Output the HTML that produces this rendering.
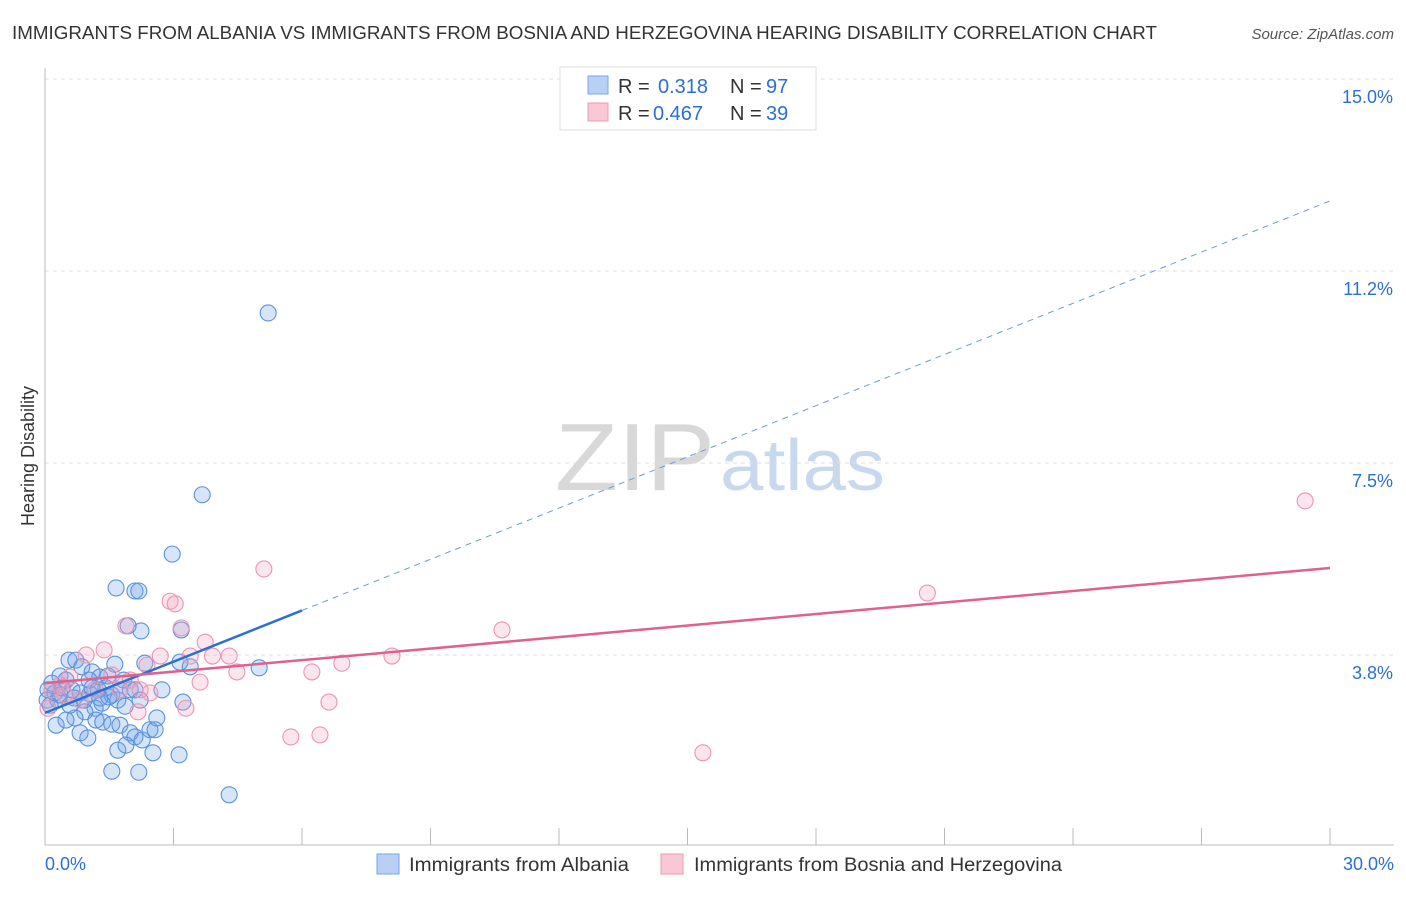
<!DOCTYPE html>
<html><head><meta charset="utf-8"><style>
body{margin:0;background:#fff;font-family:"Liberation Sans",sans-serif;}
svg text{font-family:"Liberation Sans",sans-serif;}
</style></head><body>
<svg id="chart" width="1406" height="892" xmlns="http://www.w3.org/2000/svg">
<text x="12" y="39" font-size="18" fill="#333" textLength="1145" lengthAdjust="spacingAndGlyphs">IMMIGRANTS FROM ALBANIA VS IMMIGRANTS FROM BOSNIA AND HERZEGOVINA HEARING DISABILITY CORRELATION CHART</text>
<text x="1394" y="39" font-size="15" fill="#555" text-anchor="end" font-style="italic">Source: ZipAtlas.com</text>
<text x="555" y="490" font-size="96" fill="#d8d8d8" font-family="Liberation Serif" textLength="160" lengthAdjust="spacingAndGlyphs">ZIP</text>
<text x="720" y="490" font-size="72" fill="#c8d8ef" textLength="165" lengthAdjust="spacingAndGlyphs">atlas</text>
<text transform="translate(34,456) rotate(-90)" font-size="18" fill="#333" text-anchor="middle">Hearing Disability</text>
<g id="grid"></g><g id="axes"></g><g id="marks"></g>
<g>
<rect x="560" y="67" width="256" height="63" fill="#fff" stroke="#ddd"/>
<rect x="588" y="76" width="20" height="18" fill="#b8d0f4" stroke="#7aa6e6"/>
<rect x="588" y="103" width="20" height="18" fill="#f8c8d6" stroke="#ee9ab4"/>
<text x="618" y="93" font-size="20" fill="#333">R =</text>
<text x="658" y="93" font-size="20" fill="#2a6fd6">0.318</text>
<text x="730" y="93" font-size="20" fill="#333">N =</text>
<text x="766" y="93" font-size="20" fill="#2a6fd6">97</text>
<text x="618" y="120" font-size="20" fill="#333">R =</text>
<text x="653" y="120" font-size="20" fill="#2a6fd6">0.467</text>
<text x="730" y="120" font-size="20" fill="#333">N =</text>
<text x="766" y="120" font-size="20" fill="#2a6fd6">39</text>
</g>
<g>
<rect x="377" y="854" width="22" height="20" fill="#b8d0f4" stroke="#7aa6e6"/>
<text x="409" y="871" font-size="19" fill="#333" textLength="220" lengthAdjust="spacingAndGlyphs">Immigrants from Albania</text>
<rect x="661" y="854" width="22" height="20" fill="#f8c8d6" stroke="#ee9ab4"/>
<text x="694" y="871" font-size="19" fill="#333" textLength="368" lengthAdjust="spacingAndGlyphs">Immigrants from Bosnia and Herzegovina</text>
</g>
</svg>
<script>
const yTicks=[3.75,7.5,11.25,15];
const yTickLabels=["3.8%","7.5%","11.2%","15.0%"];
const xTicks=[0,3,6,9,12,15,18,21,24,27,30];
const albaniaX=[5.21,3.67,2.97,1.66,2.10,2.19,2.24,1.94,3.18,5.00,3.15,3.39,2.33,1.63,0.56,0.72,0.86,1.10,1.28,1.47,0.35,0.16,0.07,0.23,0.05,0.40,0.63,0.82,1.05,1.24,1.42,1.56,1.75,1.99,2.10,2.73,1.70,1.87,1.33,1.17,0.93,0.70,0.49,0.26,0.82,1.00,1.19,1.35,1.56,1.75,1.99,2.10,2.27,2.45,2.61,2.57,1.70,1.89,2.52,3.13,1.56,2.19,4.30,3.22,1.03,0.49,2.22,1.49,0.30,0.12,0.68,0.91,1.10,1.28,1.84,0.35,0.58];
const albaniaY=[10.43,6.88,5.72,5.06,5.00,5.00,4.22,4.32,4.24,3.50,3.61,3.52,3.59,3.57,3.65,3.65,3.52,3.42,3.32,3.34,3.34,3.20,3.07,3.01,2.87,3.11,3.07,3.01,2.99,3.07,3.11,2.97,3.07,3.07,3.07,3.07,2.87,2.75,2.81,2.71,2.64,2.52,2.48,2.38,2.23,2.13,2.48,2.44,2.40,2.38,2.23,2.15,2.09,2.29,2.52,2.29,1.89,1.99,1.84,1.80,1.48,1.46,1.02,2.83,3.26,3.26,2.87,2.93,2.87,2.77,2.91,2.87,3.11,2.91,3.26,2.97,2.77];
const bosniaX=[29.42,20.6,10.67,15.36,8.10,6.93,6.23,6.63,6.42,5.74,5.11,4.48,4.30,3.91,3.74,3.62,3.39,3.29,3.18,2.92,3.04,2.69,2.38,2.45,2.17,1.89,1.38,0.96,1.56,1.99,1.17,0.58,0.35,0.16,0.82,0.07,1.75,0.47,2.22];
const bosniaY=[6.76,4.96,4.24,1.84,3.73,3.59,3.42,2.83,2.19,2.15,5.43,3.42,3.73,3.73,4.00,3.22,3.73,2.71,4.28,4.80,4.75,3.73,3.55,3.01,2.64,4.32,3.85,3.75,3.36,3.26,3.07,3.32,3.16,3.07,2.87,2.71,3.07,2.97,3.07];
const albaniaTrend=[2.62,0.3333];
const bosniaTrend=[3.20,0.075];
const NS="http://www.w3.org/2000/svg";
const X=v=>45+v/30*1285, Y=v=>847-v*51.2;
function mk(p,tag,a){const e=document.createElementNS(NS,tag);for(const k in a)e.setAttribute(k,a[k]);p.appendChild(e);return e;}
const grid=document.getElementById('grid'),axes=document.getElementById('axes'),marks=document.getElementById('marks');
yTicks.forEach((t,i)=>{const l=mk(grid,'line',{x1:45,x2:1394,y1:Y(t),y2:Y(t),stroke:'#ddd','stroke-dasharray':'4,4'});


const tx=mk(axes,'text',{x:1393,y:Y(t)+24,'font-size':18,fill:'#2a6fd6','text-anchor':'end'});tx.textContent=yTickLabels[i];

});
const ax=mk(axes,'line',{x1:45,x2:1394,y1:845,y2:845,stroke:'#bbb'});


const ay=mk(axes,'line',{x1:45,x2:45,y1:68,y2:845,stroke:'#bbb'});


xTicks.forEach(t=>{const l=mk(axes,'line',{x1:X(t),x2:X(t),y1:828,y2:845,stroke:'#bbb'});

});
[[0,"0.0%","start",45],[30,"30.0%","end",1394]].forEach(d=>{const t=mk(axes,'text',{x:d[3],y:870,'font-size':18,fill:'#2a6fd6','text-anchor':d[2]});t.textContent=d[1];

});
albaniaX.forEach((v,i)=>{const c=mk(marks,'circle',{cx:X(v),cy:Y(albaniaY[i]),r:8,fill:'rgba(110,160,235,0.28)',stroke:'#5a92dc','stroke-width':1.1});

});
bosniaX.forEach((v,i)=>{const c=mk(marks,'circle',{cx:X(v),cy:Y(bosniaY[i]),r:8,fill:'rgba(245,160,190,0.28)',stroke:'#eb94b0','stroke-width':1.1});

});
const f=(tr,x)=>tr[0]+tr[1]*x;
const l1=mk(marks,'line',{x1:X(0),y1:Y(f(albaniaTrend,0)),x2:X(6),y2:Y(f(albaniaTrend,6)),stroke:'#2a6fd6','stroke-width':2.5});


const l2=mk(marks,'line',{x1:X(6),y1:Y(f(albaniaTrend,6)),x2:X(30),y2:Y(f(albaniaTrend,30)),stroke:'#6a9be0','stroke-width':1,'stroke-dasharray':'6,5'});


const l3=mk(marks,'line',{x1:X(0),y1:Y(f(bosniaTrend,0)),x2:X(30),y2:Y(f(bosniaTrend,30)),stroke:'#e0608e','stroke-width':2.5});


</script>
</body></html>
